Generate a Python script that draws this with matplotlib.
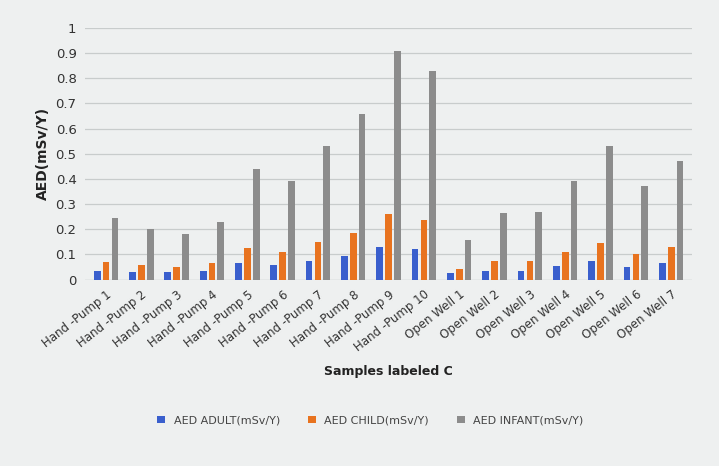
import numpy as np
import matplotlib
matplotlib.use("Agg")
import matplotlib.pyplot as plt

# Sample names and AED values (mSv/Y)
samples = ["Hand -Pump 1", "Hand -Pump 2", "Hand -Pump 3", "Hand -Pump 4", "Hand -Pump 5",
           "Hand -Pump 6", "Hand -Pump 7", "Hand -Pump 8", "Hand -Pump 9", "Hand -Pump 10",
           "Open Well 1", "Open Well 2", "Open Well 3", "Open Well 4", "Open Well 5",
           "Open Well 6", "Open Well 7"]
aed_adult = [0.035, 0.032, 0.029, 0.033, 0.065, 0.057, 0.074, 0.093, 0.13, 0.12,
             0.025, 0.036, 0.036, 0.054, 0.072, 0.05, 0.065]
aed_child = [0.068, 0.058, 0.05, 0.065, 0.124, 0.109, 0.148, 0.185, 0.26, 0.236,
             0.043, 0.075, 0.074, 0.108, 0.146, 0.10, 0.13]
aed_infant = [0.246, 0.203, 0.18, 0.229, 0.44, 0.39, 0.53, 0.66, 0.91, 0.83,
              0.156, 0.265, 0.27, 0.39, 0.53, 0.37, 0.47]

bg = "#eef0f0"
fig = plt.figure(figsize=(7.19, 4.66), dpi=100, facecolor=bg)
ax = fig.add_axes([0.118, 0.40, 0.845, 0.54], facecolor=bg)

x = np.arange(len(samples))
w = 0.19
ax.bar(x - 0.25, aed_adult, w, color="#3a5fcd", label="AED ADULT(mSv/Y)", zorder=3)
ax.bar(x, aed_child, w, color="#e8731f", label="AED CHILD(mSv/Y)", zorder=3)
ax.bar(x + 0.25, aed_infant, w, color="#8c8c8c", label="AED INFANT(mSv/Y)", zorder=3)

ax.set_ylim(0, 1)
ax.set_yticks(np.arange(0, 1.01, 0.1))
ax.set_yticklabels(["0", "0.1", "0.2", "0.3", "0.4", "0.5", "0.6", "0.7", "0.8", "0.9", "1"],
                   fontsize=9.5, color="#333333")
ax.set_xlim(-0.6, len(samples) - 0.4)
ax.set_xticks(x)
ax.set_xticklabels(samples, rotation=38, ha="right", rotation_mode="anchor",
                   fontsize=8.5, color="#333333")
ax.tick_params(length=0, pad=6)
ax.grid(axis="y", color="#c8cccc", linewidth=0.9, zorder=0)
for s in ax.spines.values():
    s.set_visible(False)
ax.axhline(0, color="#c8cccc", linewidth=0.9, zorder=1)

ax.set_ylabel("AED(mSv/Y)", fontsize=10, fontweight="bold", color="#222222")
ax.set_xlabel("Samples labeled C", fontsize=9, fontweight="bold", color="#222222", labelpad=8)

ax.legend(loc="upper center", bbox_to_anchor=(0.47, -0.50), ncol=3, frameon=False,
          fontsize=8, handlelength=0.7, handleheight=0.7, columnspacing=2.5,
          labelcolor="#444444")

fig.savefig("out.png", dpi=100, facecolor=bg)
